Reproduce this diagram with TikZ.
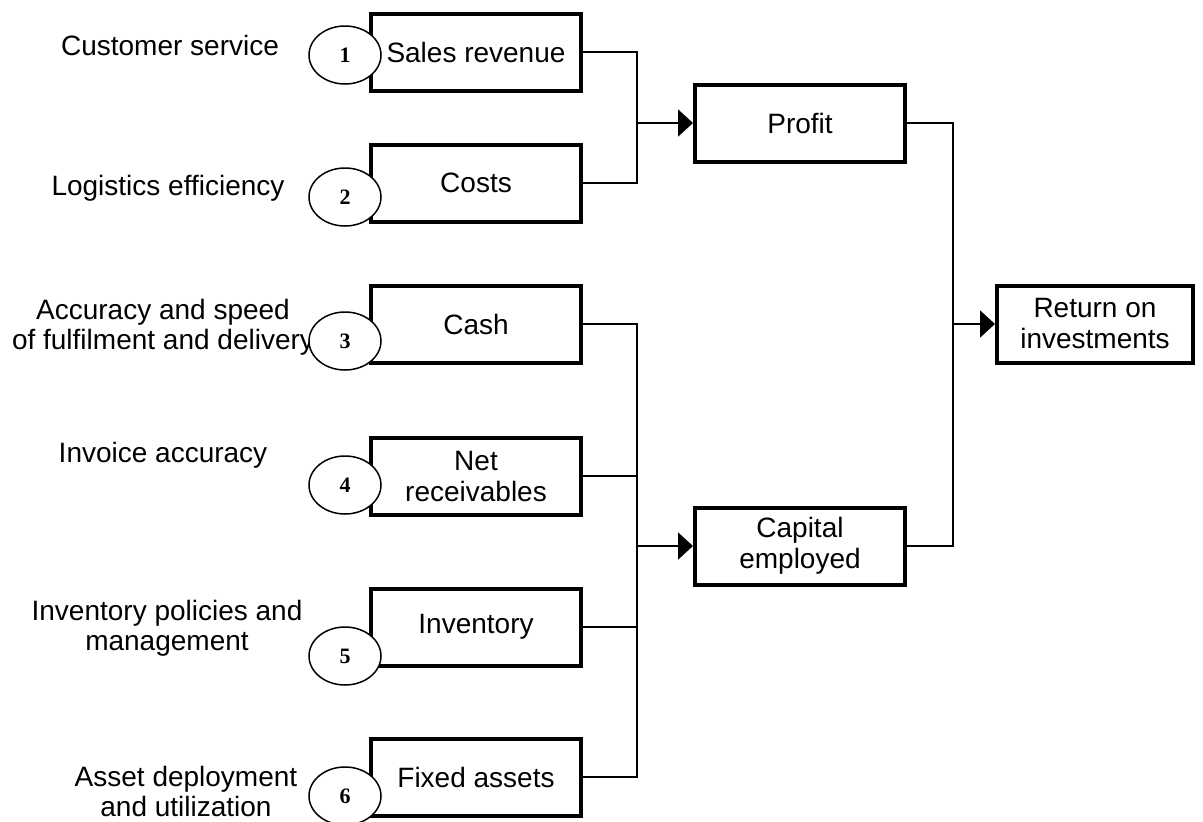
\documentclass[tikz,border=0pt]{standalone}
\usepackage{fontspec}
\setmainfont{Liberation Sans}
\newfontfamily\numfont{Liberation Serif}
\usetikzlibrary{arrows.meta,shapes.geometric}
\tikzset{
		boxStyle/.style = 	{draw, line width=4pt, fill=white, minimum width=210pt, minimum height=77pt, inner sep=0pt, align=center, font=\fontsize{28}{31}\selectfont},
		numStyle/.style = 	{draw, ellipse, line width=1.5pt, fill=white, minimum width=72pt, minimum height=58pt, inner sep=0pt, font=\numfont\bfseries\fontsize{22}{24}\selectfont},
		labelStyle/.style =	{align=center, inner sep=0pt, font=\fontsize{28}{30}\selectfont},
		lineStyle/.style = 	{line width=2pt},
		arrowStyle/.style = 	{line width=2pt, -{Triangle[length=15pt,width=27pt]}}
}

\begin{document}
\begin{tikzpicture}[x=1pt,y=-1pt]
  \useasboundingbox (0,0) rectangle (1203,822);

  % Drivers on the left
  \node [labelStyle] (lab1) at (170,45) {Customer service};
  \node [labelStyle] (lab2) at (168,188) {Logistics efficiency};
  \node [labelStyle] (lab3) at (163,327) {Accuracy and speed\\of fulfilment and delivery};
  \node [labelStyle] (lab4) at (163,455) {Invoice accuracy};
  \node [labelStyle] (lab5) at (167,628) {Inventory policies and\\management};
  \node [labelStyle] (lab6) at (186,791) {Asset deployment\\and utilization};

  % Boxes and numbered circles
  \foreach \name/\txt/\y/\cy/\num in {sales/Sales revenue/52/55/1, costs/Costs/183/197/2,
      cash/Cash/324/341/3, netrec/{Net\\receivables}/476/485/4,
      inventory/Inventory/627/656/5, fixed/Fixed assets/777/796/6}
    {\node [boxStyle] (\name) at (476,\y) {\txt};
     \node [numStyle] (n\num) at (345,\cy) {\num};}

  \node [boxStyle] (profit) at (800,123) {Profit};
  \node [boxStyle] (capital) at (800,546) {Capital\\employed};
  \node [boxStyle, minimum width=196pt] (roi) at (1095,324) {Return on\\investments};

  \coordinate (j1) at (637,123);
  \coordinate (j2) at (953,324);
  \coordinate (j3) at (637,546);

  % Connectors
  \draw [lineStyle] (sales.east) -| (j1) |- (costs.east);
  \draw [arrowStyle] (j1) -- (profit.west);
  \draw [lineStyle] (cash.east) -| (j3) |- (fixed.east);
  \draw [lineStyle] (netrec.east) -- (netrec.east -| j3) (inventory.east) -- (inventory.east -| j3);
  \draw [arrowStyle] (j3) -- (capital.west);
  \draw [lineStyle] (profit.east) -| (j2) |- (capital.east);
  \draw [arrowStyle] (j2) -- (roi.west);

\end{tikzpicture}
\end{document}
